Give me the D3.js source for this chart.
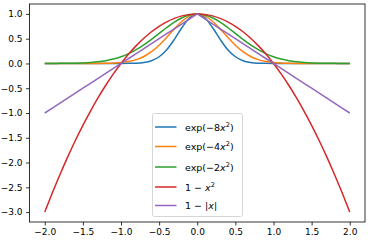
<!DOCTYPE html>
<html>
<head>
<meta charset="utf-8">
<script src="https://cdn.jsdelivr.net/npm/d3@7"></script>
<style>
body { margin: 0; background: #fff; }
svg { font-family: "DejaVu Sans", sans-serif; }
</style>
</head>
<body>
<svg id="chart" width="372" height="241"></svg>
<script>
// x samples, step 0.1
var xValues = [-2.0,-1.9,-1.8,-1.7,-1.6,-1.5,-1.4,-1.3,-1.2,-1.1,-1.0,-0.9,-0.8,-0.7,-0.6,-0.5,-0.4,-0.3,-0.2,-0.1,
               0.0,0.1,0.2,0.3,0.4,0.5,0.6,0.7,0.8,0.9,1.0,1.1,1.2,1.3,1.4,1.5,1.6,1.7,1.8,1.9,2.0];

var exp8 = [0,0,0,0,0,0,0,0,0,0,0.000,0.002,0.006,0.020,0.056,0.135,0.278,0.487,0.726,0.923,
            1,0.923,0.726,0.487,0.278,0.135,0.056,0.020,0.006,0.002,0.000,0,0,0,0,0,0,0,0,0,0];
var exp4 = [0,0,0,0,0,0,0.000,0.001,0.003,0.008,0.018,0.039,0.077,0.141,0.237,0.368,0.527,0.698,0.852,0.961,
            1,0.961,0.852,0.698,0.527,0.368,0.237,0.141,0.077,0.039,0.018,0.008,0.003,0.001,0.000,0,0,0,0,0,0];
var exp2 = [0.000,0.001,0.002,0.003,0.006,0.011,0.020,0.034,0.056,0.089,0.135,0.198,0.278,0.375,0.487,0.607,0.726,0.835,0.923,0.980,
            1,0.980,0.923,0.835,0.726,0.607,0.487,0.375,0.278,0.198,0.135,0.089,0.056,0.034,0.020,0.011,0.006,0.003,0.002,0.001,0.000];
var quad = [-3,-2.61,-2.24,-1.89,-1.56,-1.25,-0.96,-0.69,-0.44,-0.21,0,0.19,0.36,0.51,0.64,0.75,0.84,0.91,0.96,0.99,
            1,0.99,0.96,0.91,0.84,0.75,0.64,0.51,0.36,0.19,0,-0.21,-0.44,-0.69,-0.96,-1.25,-1.56,-1.89,-2.24,-2.61,-3];
var absl = [-1,-0.9,-0.8,-0.7,-0.6,-0.5,-0.4,-0.3,-0.2,-0.1,0,0.1,0.2,0.3,0.4,0.5,0.6,0.7,0.8,0.9,
            1,0.9,0.8,0.7,0.6,0.5,0.4,0.3,0.2,0.1,0,-0.1,-0.2,-0.3,-0.4,-0.5,-0.6,-0.7,-0.8,-0.9,-1];

var xTicks = [-2.0,-1.5,-1.0,-0.5,0.0,0.5,1.0,1.5,2.0];
var yTicks = [-3.0,-2.5,-2.0,-1.5,-1.0,-0.5,0.0,0.5,1.0];

var series = [
    {name: "exp8", values: exp8, color: "#1f77b4", smooth: true},
    {name: "exp4", values: exp4, color: "#ff7f0e", smooth: true},
    {name: "exp2", values: exp2, color: "#2ca02c", smooth: true},
    {name: "quad", values: quad, color: "#d62728", smooth: true},
    {name: "abs",  values: absl, color: "#9467bd", smooth: false}
];

var plotL = 29.5, plotR = 365, plotT = 4, plotB = 222;
var svg = d3.select("#chart");

var x = d3.scaleLinear().domain([-2.2, 2.2]).range([plotL, plotR]);
var y = d3.scaleLinear().domain([-3.2, 1.2]).range([plotB, plotT]);

var fmt = function(d){ return d3.format(".1f")(d).replace("-", "\u2212"); };

svg.append("g").attr("transform", "translate(0," + plotB + ")")
    .call(d3.axisBottom(x).tickValues(xTicks).tickFormat(fmt).tickSize(3.5).tickPadding(3.5));
svg.append("g").attr("transform", "translate(" + plotL + ",0)")
    .call(d3.axisLeft(y).tickValues(yTicks).tickFormat(fmt).tickSize(3.5).tickPadding(3.5));
svg.selectAll(".domain").remove();
svg.selectAll(".tick text").attr("font-size", 9).attr("font-family", "DejaVu Sans").attr("fill", "#000");
svg.selectAll(".tick line").attr("stroke", "#000").attr("stroke-width", 0.8);

for (var s = 0; s < series.length; s++) {
    var ser = series[s];
    var line = d3.line()
        .x(function(d, i){ return x(xValues[i]); })
        .y(function(d){ return y(d); })
        .curve(ser.smooth ? d3.curveMonotoneX : d3.curveLinear);
    svg.append("path").datum(ser.values)
        .attr("d", line)
        .attr("fill", "none")
        .attr("stroke", ser.color)
        .attr("stroke-width", 1.5);
}

// frame
svg.append("rect").attr("x", plotL).attr("y", plotT)
    .attr("width", plotR - plotL).attr("height", plotB - plotT)
    .attr("fill", "none").attr("stroke", "#000").attr("stroke-width", 0.8);

// legend
var lg = svg.append("g");
lg.append("rect").attr("x", 152.5).attr("y", 113.5).attr("width", 90).attr("height", 103)
    .attr("rx", 2).attr("fill", "#fff").attr("fill-opacity", 0.8)
    .attr("stroke", "#cccccc").attr("stroke-width", 0.8);

var rowY = [127, 146.5, 167, 187, 205.5];
var labels = [
    [["exp(\u22128", ""], ["x", "i"], ["2", "sup"], [")", ""]],
    [["exp(\u22124", ""], ["x", "i"], ["2", "sup"], [")", ""]],
    [["exp(\u22122", ""], ["x", "i"], ["2", "sup"], [")", ""]],
    [["1 \u2212 ", ""], ["x", "i"], ["2", "sup"]],
    [["1 \u2212 |", ""], ["x", "i"], ["|", ""]]
];

for (var k = 0; k < series.length; k++) {
    lg.append("line").attr("x1", 155).attr("x2", 176.5)
        .attr("y1", rowY[k]).attr("y2", rowY[k])
        .attr("stroke", series[k].color).attr("stroke-width", 1.5);
    var t = lg.append("text").attr("x", 185).attr("y", rowY[k] + 3.5)
        .attr("font-size", 9.5).attr("fill", "#000").attr("xml:space", "preserve");
    var prevSup = false;
    labels[k].forEach(function(p){
        var ts = t.append("tspan").text(p[0]);
        if (p[1] === "i") ts.attr("font-style", "italic");
        if (p[1] === "sup") ts.attr("font-size", 6.7).attr("dy", -4);
        else if (prevSup) ts.attr("dy", 4);
        prevSup = (p[1] === "sup");
    });
}
</script>
</body>
</html>
